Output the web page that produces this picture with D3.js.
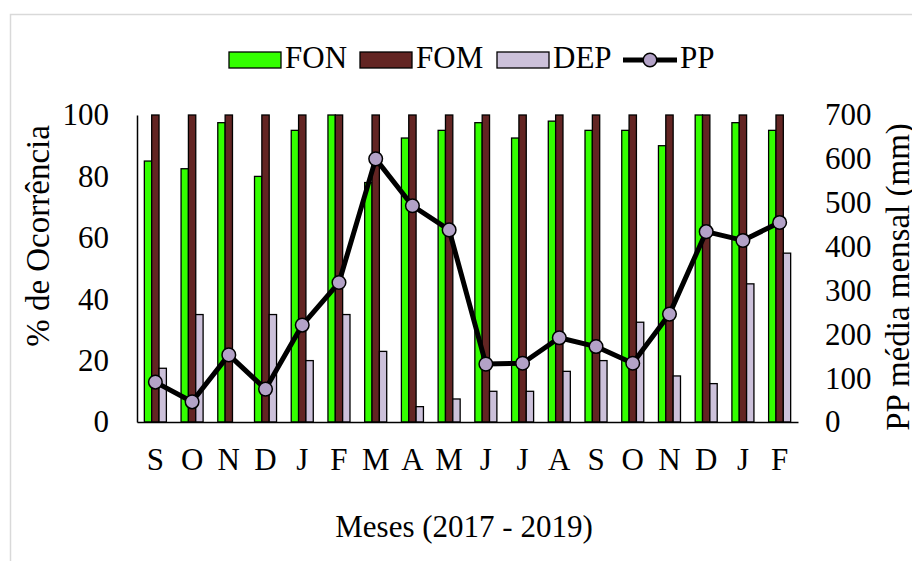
<!DOCTYPE html>
<html>
<head>
<meta charset="utf-8">
<script src="https://cdn.jsdelivr.net/npm/d3@7"></script>
<style>
  body { margin: 0; background: #fff; }
  svg text { font-family: "Liberation Serif", "DejaVu Serif", "Times New Roman", serif !important; fill: #000; }
</style>
</head>
<body>
<div id="chart"></div>
<script>
// months Sep 2017 - Feb 2019
const months = ['S', 'O', 'N', 'D', 'J', 'F', 'M', 'A', 'M', 'J', 'J', 'A', 'S', 'O', 'N', 'D', 'J', 'F'];
const fon = [85, 82.5, 97.5, 80, 95, 100, 78, 92.5, 95, 97.5, 92.5, 98, 95, 95, 90, 100, 97.5, 95];
const fom = [100, 100, 100, 100, 100, 100, 100, 100, 100, 100, 100, 100, 100, 100, 100, 100, 100, 100];
const dep = [17.5, 35, 0, 35, 20, 35, 23, 5, 7.5, 10, 10, 16.5, 20, 32.5, 15, 12.5, 45, 55];
const pp = [91, 46, 153, 75, 221, 318, 600, 493, 438, 132, 134, 192, 172, 134, 246, 434, 414, 455];
const leftTicks = [0, 20, 40, 60, 80, 100];
const rightTicks = [0, 100, 200, 300, 400, 500, 600, 700];

const series = [
  { key: 'FON', values: fon, color: '#33ff00' },
  { key: 'FOM', values: fom, color: '#632523' },
  { key: 'DEP', values: dep, color: '#ccc1da' }
];

const FONT = '"Liberation Serif", "DejaVu Serif", serif';
const W = 912, H = 561;
const margin = { top: 115, right: 114, bottom: 139, left: 137 };
const width = W - margin.left - margin.right;
const height = H - margin.top - margin.bottom;

const svg = d3.select('#chart').append('svg')
  .attr('width', W)
  .attr('height', H)
  .attr('font-family', FONT);

// light frame
svg.append('rect')
  .attr('x', 10.5).attr('y', 14.5)
  .attr('width', 920).attr('height', 560)
  .attr('fill', 'none')
  .attr('stroke', '#d9d9d9')
  .attr('stroke-width', 1.5);

const g = svg.append('g').attr('transform', `translate(${margin.left},${margin.top})`);

const idx = d3.range(months.length);
const x = d3.scaleBand().domain(idx).range([0, width]).paddingInner(0.4).paddingOuter(0.2);
const xs = d3.scaleBand().domain(series.map(s => s.key)).range([0, x.bandwidth()]);
const y = d3.scaleLinear().domain([0, 100]).range([height, 0]);
const y2 = d3.scaleLinear().domain([0, 700]).range([height, 0]);

// bars
const grp = g.selectAll('g.month')
  .data(idx)
  .enter().append('g')
  .attr('class', 'month')
  .attr('transform', i => `translate(${x(i)},0)`);

grp.selectAll('rect')
  .data(i => series.map(s => ({ key: s.key, v: s.values[i], color: s.color })))
  .enter().append('rect')
  .attr('x', d => xs(d.key))
  .attr('y', d => y(d.v))
  .attr('width', xs.bandwidth())
  .attr('height', d => height - y(d.v))
  .attr('fill', d => d.color)
  .attr('stroke', d => d.v > 0 ? '#000' : 'none')
  .attr('stroke-width', 1.3);

// axes
const yAxis = d3.axisLeft(y).tickValues(leftTicks).tickSize(0).tickPadding(28);
const gy = g.append('g').call(yAxis).attr('font-family', FONT);
gy.select('.domain').attr('stroke', '#000').attr('stroke-width', 1.5);
gy.selectAll('text').style('font-size', '31px');

const y2Axis = d3.axisRight(y2).tickValues(rightTicks).tickSize(0).tickPadding(27);
const gy2 = g.append('g').attr('transform', `translate(${width},0)`).call(y2Axis).attr('font-family', FONT);
gy2.select('.domain').remove();
gy2.selectAll('text').style('font-size', '31px');

const xAxis = d3.axisBottom(x).tickFormat(i => months[i]).tickSize(0).tickPadding(26);
const gx = g.append('g').attr('transform', `translate(0,${height})`).call(xAxis).attr('font-family', FONT);
gx.select('.domain').attr('stroke', '#000').attr('stroke-width', 1.5);
gx.selectAll('text').style('font-size', '31px');

// PP line
const cx = i => x(i) + x.bandwidth() / 2;
g.append('path')
  .datum(idx)
  .attr('fill', 'none')
  .attr('stroke', '#000')
  .attr('stroke-width', 5)
  .attr('stroke-linejoin', 'round')
  .attr('d', d3.line().x(cx).y(i => y2(pp[i])));

g.selectAll('circle.pp')
  .data(idx)
  .enter().append('circle')
  .attr('class', 'pp')
  .attr('cx', cx)
  .attr('cy', i => y2(pp[i]))
  .attr('r', 6.8)
  .attr('fill', '#b3a2c7')
  .attr('stroke', '#000')
  .attr('stroke-width', 1.5);

// axis titles
svg.append('text')
  .attr('transform', 'translate(49,236) rotate(-90)')
  .attr('text-anchor', 'middle')
  .style('font-size', '33px')
  .text('% de Ocorrência');

svg.append('text')
  .attr('transform', 'translate(909,277) rotate(-90)')
  .attr('text-anchor', 'middle')
  .style('font-size', '33px')
  .text('PP média mensal (mm)');

svg.append('text')
  .attr('x', 464).attr('y', 537)
  .attr('text-anchor', 'middle')
  .style('font-size', '31px')
  .text('Meses (2017 - 2019)');

// legend
const legend = svg.append('g');
const legendX = [229, 360, 497];
series.forEach((s, i) => {
  legend.append('rect')
    .attr('x', legendX[i]).attr('y', 52)
    .attr('width', 52).attr('height', 16)
    .attr('fill', s.color)
    .attr('stroke', '#000')
    .attr('stroke-width', 1.3);
  legend.append('text')
    .attr('x', legendX[i] + 56).attr('y', 68)
    .style('font-size', '31px')
    .text(s.key);
});
legend.append('line')
  .attr('x1', 623).attr('x2', 677).attr('y1', 60).attr('y2', 60)
  .attr('stroke', '#000').attr('stroke-width', 5);
legend.append('circle')
  .attr('cx', 650).attr('cy', 60).attr('r', 6.8)
  .attr('fill', '#b3a2c7').attr('stroke', '#000').attr('stroke-width', 1.5);
legend.append('text')
  .attr('x', 680).attr('y', 68)
  .style('font-size', '31px')
  .text('PP');
</script>
</body>
</html>
